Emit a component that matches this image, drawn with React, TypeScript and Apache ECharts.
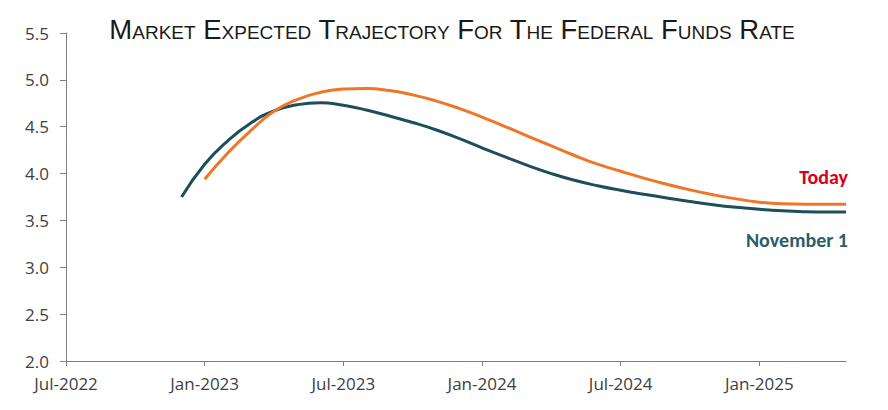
import React, { useEffect, useRef } from "react";
import * as echarts from "echarts";

// x = months since Jul-2022
const novX = [5, 6, 7, 8, 9, 10, 11, 12, 13, 14, 15, 16, 17, 18, 19, 20, 21, 22, 23, 24, 25, 26, 27, 28, 29, 30, 31, 32, 33, 33.75];
const novY = [3.75, 4.1, 4.35, 4.54, 4.67, 4.735, 4.757, 4.728, 4.678, 4.614, 4.545, 4.468, 4.375, 4.275, 4.178, 4.085, 4.0, 3.928, 3.87, 3.822, 3.78, 3.74, 3.702, 3.668, 3.64, 3.618, 3.602, 3.593, 3.59, 3.59];

const todayX = [6, 7, 8, 9, 10, 11, 12, 13, 14, 15, 16, 17, 18, 19, 20, 21, 22, 23, 24, 25, 26, 27, 28, 29, 30, 31, 32, 33, 33.75];
const todayY = [3.94, 4.22, 4.46, 4.665, 4.79, 4.866, 4.902, 4.908, 4.886, 4.84, 4.776, 4.696, 4.603, 4.502, 4.398, 4.295, 4.193, 4.1, 4.025, 3.952, 3.886, 3.826, 3.774, 3.73, 3.695, 3.677, 3.672, 3.672, 3.672];

const xTickValues = [0, 6, 12, 18, 24, 30];
const xTickLabels = ["Jul-2022", "Jan-2023", "Jul-2023", "Jan-2024", "Jul-2024", "Jan-2025"];

const titleText = "Market Expected Trajectory For The Federal Funds Rate";
const seriesNames = ["Today", "November 1"];

export default function App() {
  const ref = useRef<HTMLDivElement>(null);
  useEffect(() => {
    if (!ref.current) return;
    const chart = echarts.init(ref.current, null, { renderer: "svg" });
    const labelFont = "'Open Sans', 'Noto Sans', sans-serif";
    const endFont = "Carlito, Lato, 'Open Sans', sans-serif";
    chart.setOption({
      animation: false,
      backgroundColor: "#ffffff",
      grid: { left: 66, right: 42, top: 33, bottom: 49 },
      graphic: [
        {
          type: "text",
          x: 452,
          y: 29,
          style: {
            text: titleText,
            font: "small-caps 27.5px 'Liberation Sans', Arial, sans-serif",
            fill: "#1a1a1a",
            textAlign: "center",
            textVerticalAlign: "middle",
          },
        },
      ],
      xAxis: {
        type: "value",
        min: 0,
        max: 33.75,
        interval: 6,
        splitLine: { show: false },
        axisLine: { show: true, lineStyle: { color: "#7f7f7f", width: 1 } },
        axisTick: { show: true, length: 5, lineStyle: { color: "#7f7f7f" }, customValues: xTickValues },
        axisLabel: {
          customValues: xTickValues,
          margin: 14,
          color: "#404040",
          fontSize: 17,
          fontFamily: labelFont,
          formatter: (v: number) => {
            const i = xTickValues.indexOf(Math.round(v));
            return i >= 0 ? xTickLabels[i] : "";
          },
        },
      },
      yAxis: {
        type: "value",
        min: 2,
        max: 5.5,
        interval: 0.5,
        splitLine: { show: false },
        axisLine: { show: true, lineStyle: { color: "#7f7f7f", width: 1 } },
        axisTick: { show: true, length: 6, lineStyle: { color: "#7f7f7f" } },
        axisLabel: {
          margin: 17,
          color: "#404040",
          fontSize: 17,
          fontFamily: labelFont,
          formatter: (v: number) => v.toFixed(1),
        },
      },
      series: [
        {
          name: seriesNames[0],
          type: "line",
          smooth: true,
          showSymbol: false,
          symbol: "none",
          lineStyle: { color: "#EF7626", width: 3 },
          data: todayX.map((x, i) => [x, todayY[i]]),
          z: 3,
          endLabel: {
            show: true,
            formatter: "{a}",
            align: "right",
            distance: 0,
            offset: [2, -27],
            color: "#D7001E",
            fontWeight: "bold",
            fontSize: 20,
            fontFamily: endFont,
          },
        },
        {
          name: seriesNames[1],
          type: "line",
          smooth: true,
          showSymbol: false,
          symbol: "none",
          lineStyle: { color: "#1D4E5C", width: 3 },
          data: novX.map((x, i) => [x, novY[i]]),
          z: 2,
          endLabel: {
            show: true,
            formatter: "{a}",
            align: "right",
            distance: 0,
            offset: [2, 28],
            color: "#2B5D6B",
            fontWeight: "bold",
            fontSize: 20,
            fontFamily: endFont,
          },
        },
      ],
    });
    return () => chart.dispose();
  }, []);
  return (
    <div
      ref={ref}
      style={{ position: "fixed", left: 0, top: 0, width: 888, height: 410 }}
    />
  );
}
